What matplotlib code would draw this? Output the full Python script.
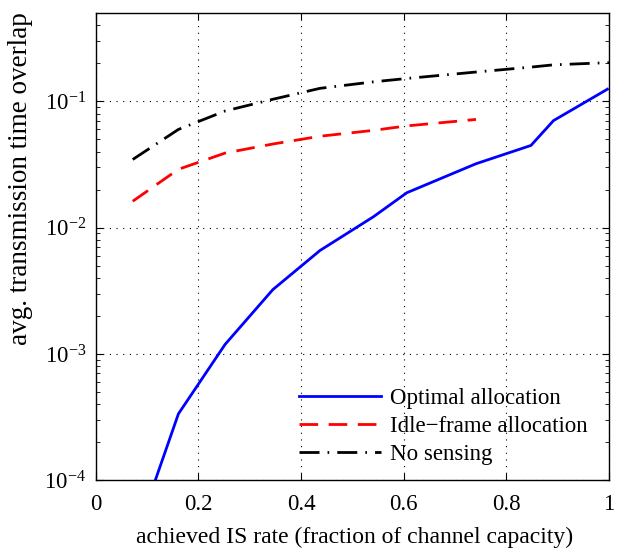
import numpy as np
import matplotlib
matplotlib.use("Agg")
from matplotlib import pyplot as plt

# values
x_opt = [0.07, 0.161, 0.252, 0.345, 0.437, 0.541, 0.606, 0.741, 0.848, 0.892, 0.997]
y_opt = [2.9e-5, 3.35e-4, 1.19e-3, 3.23e-3, 6.6e-3, 1.22e-2, 1.89e-2, 3.21e-2, 4.48e-2, 7.05e-2, 0.125]

x_idle = [0.072, 0.161, 0.252, 0.345, 0.437, 0.541, 0.606, 0.741]
y_idle = [0.0162, 0.029, 0.039, 0.046, 0.053, 0.059, 0.064, 0.072]

x_nos = [0.072, 0.161, 0.252, 0.345, 0.437, 0.541, 0.606, 0.741, 0.848, 0.892, 1.0]
y_nos = [0.0347, 0.060, 0.084, 0.104, 0.127, 0.143, 0.152, 0.171, 0.187, 0.195, 0.203]

labels = ["Optimal allocation", "Idle\u2212frame allocation", "No sensing"]

plt.rcParams['font.family'] = ['Liberation Serif', 'DejaVu Serif']
plt.rcParams['mathtext.fontset'] = 'stix'
plt.rcParams['font.size'] = 16.5

fig = plt.figure(figsize=(6.22, 5.5), dpi=100)
ax = fig.add_axes([0.154, 0.127, 0.825, 0.849])

lw = 2.0
ax.plot(x_opt, y_opt, color='#0000ff', linewidth=lw, label=labels[0])
ax.plot(x_idle, y_idle, color='#ff0000', linewidth=lw, dashes=(6.7, 3.8), label=labels[1])
ax.plot(x_nos, y_nos, color='k', linewidth=lw, dashes=(7.2, 2.9, 0.6, 2.9), label=labels[2])

ax.set_yscale('log')
ax.set_xlim(0, 1)
ax.set_ylim(1e-4, 0.5)
ax.set_xticks([0, 0.2, 0.4, 0.6, 0.8, 1])
ax.set_xticklabels(["0", "0.2", "0.4", "0.6", "0.8", "1"])
ax.set_yticks([1e-4, 1e-3, 1e-2, 1e-1])
ax.tick_params(which='both', direction='in', top=True, right=True)
ax.tick_params(which='major', length=5, width=0.8)
ax.tick_params(axis='x', which='major', pad=10)
ax.tick_params(axis='y', which='major', pad=7)
ax.tick_params(which='minor', length=3, width=0.6)
ax.grid(True, which='major', color='k', linestyle=(0, (1, 5)), linewidth=0.8)
for s in ax.spines.values():
    s.set_linewidth(1.0)

ax.set_xlabel("achieved IS rate (fraction of channel capacity)", fontsize=17)
ax.xaxis.set_label_coords(0.505, -0.1)
ax.set_ylabel("avg. transmission time overlap", fontsize=19.5)
ax.yaxis.set_label_coords(-0.123, 0.645)

ax.legend(loc='lower right', frameon=False, handlelength=3.6, handletextpad=0.4,
          labelspacing=0.3, bbox_to_anchor=(0.988, 0.0), borderaxespad=0.25)

plt.savefig("out.png", dpi=100)
